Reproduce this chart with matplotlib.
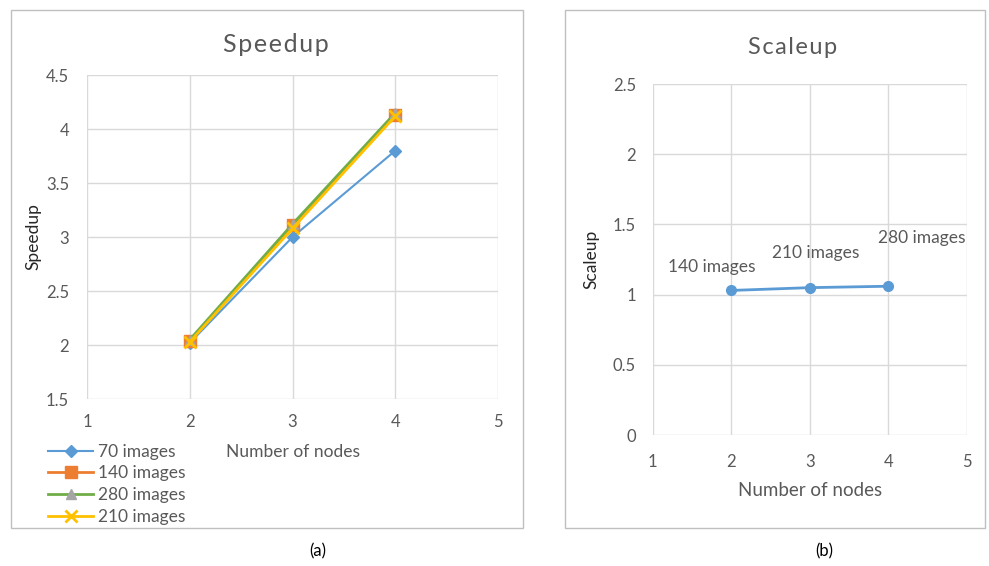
import matplotlib.pyplot as plt
from matplotlib.patches import Rectangle

# data
nodes = [2, 3, 4]
speedup_70 = [2.02, 3.00, 3.80]
speedup_140 = [2.04, 3.11, 4.13]
speedup_280 = [2.05, 3.12, 4.15]
speedup_210 = [2.03, 3.08, 4.12]

scaleup = [1.03, 1.05, 1.06]
scaleup_labels = ['140 images', '210 images', '280 images']
label_offsets = [(-14, 17), (4, 25), (24, 35)]

plt.rcParams['font.family'] = ['Lato', 'DejaVu Sans']
txt = '#595959'
grid = '#d9d9d9'
hs = '\u200a'

fig = plt.figure(figsize=(9.89, 5.66), dpi=100)

# panel frames
fig.patches.append(Rectangle((0.0111, 0.0671), 0.5177, 0.9152, transform=fig.transFigure,
                             fill=False, edgecolor='#bfbfbf', lw=1))
fig.patches.append(Rectangle((0.5713, 0.0671), 0.4247, 0.9152, transform=fig.transFigure,
                             fill=False, edgecolor='#bfbfbf', lw=1))


def style(ax, xpad, ypad):
    for s in ax.spines.values():
        s.set_visible(False)
    ax.grid(True, color=grid, lw=1)
    ax.set_axisbelow(True)
    ax.tick_params(length=0, colors=txt, labelsize=12)
    ax.tick_params(axis='x', pad=xpad)
    ax.tick_params(axis='y', pad=ypad)


ax1 = fig.add_axes([0.088, 0.295, 0.4156, 0.5724])
style(ax1, 11, 13)
ax1.plot(nodes, speedup_70, color='#5b9bd5', marker='D', ms=6, lw=1.5, label='70 images')
ax1.plot(nodes, speedup_140, color='#ed7d31', marker='s', ms=9, lw=2, label='140 images')
ax1.plot(nodes, speedup_280, color='#70ad47', marker='^', ms=7, lw=2, mfc='#a5a5a5', mec='#a5a5a5', label='280 images')
ax1.plot(nodes, speedup_210, color='#ffc000', marker='x', ms=8, mew=2, lw=2, label='210 images')
ax1.set_xlim(1, 5)
ax1.set_ylim(1.5, 4.5)
ax1.set_xticks([1, 2, 3, 4, 5])
ax1.set_yticks([1.5, 2, 2.5, 3, 3.5, 4, 4.5])
ax1.set_yticklabels(['1.5', '2', '2.5', '3', '3.5', '4', '4.5'])
ax1.set_ylabel('Speedup', color='#262626', fontsize=12.5, labelpad=3)
ax1.set_xlabel('Number of nodes', color=txt, fontsize=12.5, labelpad=10)
leg = ax1.legend(loc='upper left', bbox_to_anchor=(-0.095, -0.138), frameon=False,
                 fontsize=12.5, handlelength=2.6, labelspacing=0.33, borderaxespad=0,
                 borderpad=0, handletextpad=0.3)
for t in leg.get_texts():
    t.set_color(txt)

ax2 = fig.add_axes([0.660, 0.2314, 0.3175, 0.620])
style(ax2, 14, 12)
ax2.plot(nodes, scaleup, color='#5b9bd5', marker='o', ms=7, lw=2)
for x, y, lab, off in zip(nodes, scaleup, scaleup_labels, label_offsets):
    ax2.annotate(lab, (x, y), xytext=off, textcoords='offset points',
                 ha='center', va='center', color=txt, fontsize=12.5)
ax2.set_xlim(1, 5)
ax2.set_ylim(0, 2.5)
ax2.set_xticks([1, 2, 3, 4, 5])
ax2.set_yticks([0, 0.5, 1, 1.5, 2, 2.5])
ax2.set_yticklabels(['0', '0.5', '1', '1.5', '2', '2.5'])
ax2.set_ylabel('Scaleup', color='#262626', fontsize=12.5, labelpad=10)
ax2.set_xlabel('Number of nodes', color=txt, fontsize=13.5, labelpad=8)

# chart titles, slightly letter-spaced like the original
fig.text(276 / 989, 1 - 45 / 566, hs.join('Speedup'), ha='center', va='center', fontsize=18, color=txt)
fig.text(793 / 989, 1 - 47 / 566, hs.join('Scaleup'), ha='center', va='center', fontsize=17, color=txt)

fig.text(0.3215, 0.026, '(a)', ha='center', va='center', fontsize=12, color='black')
fig.text(0.833, 0.026, '(b)', ha='center', va='center', fontsize=12, color='black')

fig.savefig('out.png', dpi=100, facecolor='white')
